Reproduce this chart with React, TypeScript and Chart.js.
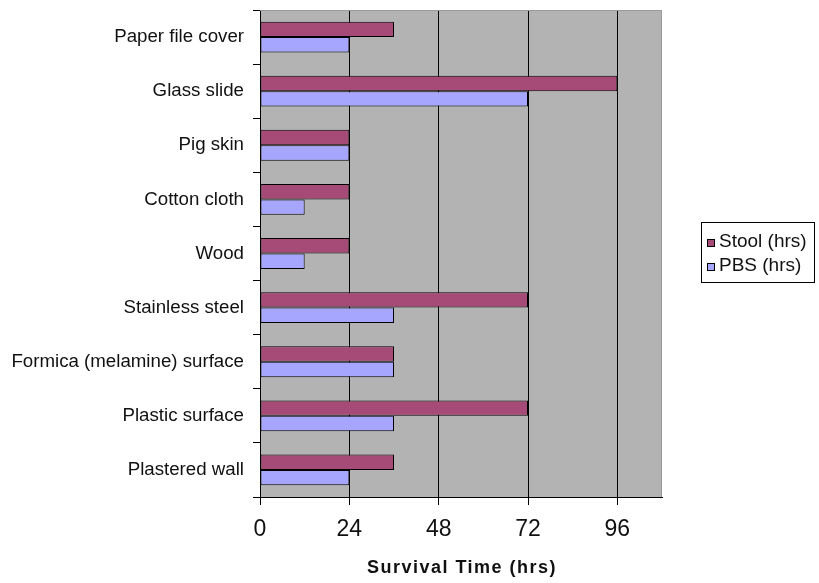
import React, { useEffect, useRef } from "react";
import { Chart, registerables } from "chart.js";

Chart.register(...registerables);

const categories = [
  "Paper file cover",
  "Glass slide",
  "Pig skin",
  "Cotton cloth",
  "Wood",
  "Stainless steel",
  "Formica (melamine) surface",
  "Plastic surface",
  "Plastered wall",
];
const stoolHrs = [36, 96, 24, 24, 24, 72, 36, 72, 36];
const pbsHrs = [24, 72, 24, 12, 12, 36, 36, 36, 24];
const seriesNames = ["Stool (hrs)", "PBS (hrs)"];
const xTicks = [0, 24, 48, 72, 96];
const xMax = 108;
const xTitle = "Survival Time (hrs)";

const FONT = "'Liberation Sans', Arial, sans-serif";

const plotPlugin = {
  id: "plotDecor",
  beforeDraw(chart: any) {
    const { ctx, chartArea: a } = chart;
    ctx.save();
    ctx.fillStyle = "#b3b3b3";
    ctx.fillRect(a.left, a.top, a.right - a.left, a.bottom - a.top);
    ctx.restore();
  },
  afterDraw(chart: any) {
    const { ctx, chartArea: a } = chart;
    ctx.save();
    // top and right border
    ctx.strokeStyle = "#9a9a9a";
    ctx.lineWidth = 1;
    ctx.beginPath();
    ctx.moveTo(a.left, a.top + 0.5);
    ctx.lineTo(a.right - 0.5, a.top + 0.5);
    ctx.lineTo(a.right - 0.5, a.bottom);
    ctx.stroke();

    // axis title
    ctx.fillStyle = "#111";
    ctx.font = `bold 18px ${FONT}`;
    try {
      (ctx as any).letterSpacing = "1.5px";
    } catch (e) {}
    ctx.textAlign = "center";
    ctx.textBaseline = "middle";
    ctx.fillText(xTitle, (a.left + a.right) / 2 + 1, 568);
    try {
      (ctx as any).letterSpacing = "0px";
    } catch (e) {}

    // legend
    const lx = 701.5;
    const ly = 222.5;
    const lw = 113;
    const lh = 60;
    ctx.fillStyle = "#ffffff";
    ctx.fillRect(lx, ly, lw, lh);
    ctx.strokeStyle = "#000";
    ctx.lineWidth = 1;
    ctx.strokeRect(lx, ly, lw, lh);
    ctx.font = `19px ${FONT}`;
    ctx.textAlign = "left";
    ctx.textBaseline = "alphabetic";
    chart.data.datasets.forEach((ds: any, i: number) => {
      const baseY = 247 + i * 24;
      ctx.fillStyle = ds.backgroundColor;
      ctx.fillRect(707.5, baseY - 7.5, 7, 7);
      ctx.strokeStyle = "#000";
      ctx.strokeRect(707.5, baseY - 7.5, 7, 7);
      ctx.fillStyle = "#111";
      ctx.fillText(ds.label, 719, baseY);
    });
    ctx.restore();
  },
};

export default function App() {
  const ref = useRef<HTMLCanvasElement>(null);

  useEffect(() => {
    if (!ref.current) return;
    const chart = new Chart(ref.current, {
      type: "bar",
      data: {
        labels: categories,
        datasets: [
          {
            label: seriesNames[0],
            data: stoolHrs,
            backgroundColor: "#a64a77",
            borderColor: "#000",
            borderWidth: 1,
            borderSkipped: false,
          },
          {
            label: seriesNames[1],
            data: pbsHrs,
            backgroundColor: "#a6a6ff",
            borderColor: "#000",
            borderWidth: 1,
            borderSkipped: false,
          },
        ],
      },
      options: {
        indexAxis: "y",
        animation: false,
        responsive: true,
        maintainAspectRatio: false,
        layout: { padding: { top: 10, right: 157, left: 0, bottom: 0 } },
        datasets: {
          bar: { categoryPercentage: 0.57, barPercentage: 1 },
        },
        plugins: {
          legend: { display: false },
          tooltip: { enabled: false },
        },
        scales: {
          x: {
            type: "linear",
            min: 0,
            max: xMax,
            afterBuildTicks: (scale: any) => {
              scale.ticks = xTicks.map((v) => ({ value: v }));
            },
            afterFit: (scale: any) => {
              scale.height = 86;
              scale.paddingLeft = 0;
              scale.paddingRight = 0;
            },
            ticks: {
              font: { family: FONT, size: 23 },
              color: "#111",
              padding: 11,
              maxRotation: 0,
            },
            grid: {
              color: "#000",
              lineWidth: 1,
              tickLength: 8,
              drawOnChartArea: true,
            },
            border: { color: "#000", width: 1 },
          },
          y: {
            type: "category",
            afterFit: (scale: any) => {
              scale.width = 260;
              scale.paddingTop = 0;
              scale.paddingBottom = 0;
            },
            ticks: {
              font: { family: FONT, size: 18.7 },
              color: "#111",
              padding: 9,
            },
            grid: {
              color: "#000",
              drawOnChartArea: false,
              tickLength: 7,
              offset: true,
            },
            border: { color: "#000", width: 1 },
          },
        },
      },
      plugins: [plotPlugin],
    });
    return () => chart.destroy();
  }, []);

  return (
    <div
      style={{
        position: "absolute",
        left: 0,
        top: 0,
        width: 819,
        height: 583,
        background: "#fff",
      }}
    >
      <canvas ref={ref} />
    </div>
  );
}
